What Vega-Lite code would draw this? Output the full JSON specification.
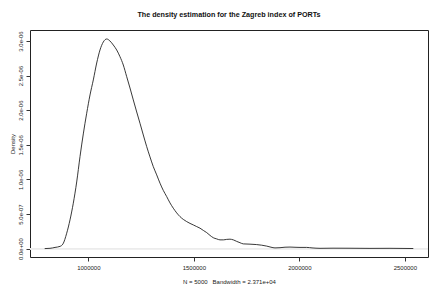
{
  "$schema": "https://vega.github.io/schema/vega-lite/v6.json",
  "autosize": {"type": "none"},
  "width": 398,
  "height": 227,
  "padding": {"left": 30, "top": 30, "right": 16, "bottom": 38},
  "background": "white",
  "config": {
    "font": "Liberation Sans",
    "view": {"stroke": "#222", "strokeWidth": 1},
    "axis": {"grid": false, "domain": false, "tickColor": "#333", "tickSize": 4, "labelColor": "#222", "titleColor": "#222", "labelFont": "Liberation Sans", "titleFont": "Liberation Sans", "labelFontSize": 6, "titleFontSize": 6, "titleFontWeight": "normal"}
  },
  "title": {"text": "The density estimation for the Zagreb index of PORTs", "fontSize": 7.2, "fontWeight": "bold", "color": "#111", "offset": 12, "anchor": "middle"},
  "data": {"values": [
    {"x": 793370, "d": 0.0},
    {"x": 818500, "d": 0.004e-6},
    {"x": 842200, "d": 0.017e-6},
    {"x": 865900, "d": 0.032e-6},
    {"x": 880100, "d": 0.068e-6},
    {"x": 897600, "d": 0.222e-6},
    {"x": 913300, "d": 0.415e-6},
    {"x": 928900, "d": 0.656e-6},
    {"x": 945000, "d": 0.963e-6},
    {"x": 960700, "d": 1.329e-6},
    {"x": 976300, "d": 1.657e-6},
    {"x": 992400, "d": 1.956e-6},
    {"x": 1008100, "d": 2.220e-6},
    {"x": 1023700, "d": 2.437e-6},
    {"x": 1039800, "d": 2.682e-6},
    {"x": 1055400, "d": 2.870e-6},
    {"x": 1071100, "d": 2.986e-6},
    {"x": 1087200, "d": 3.029e-6},
    {"x": 1102800, "d": 3.000e-6},
    {"x": 1118500, "d": 2.942e-6},
    {"x": 1134600, "d": 2.870e-6},
    {"x": 1150200, "d": 2.773e-6},
    {"x": 1165900, "d": 2.653e-6},
    {"x": 1182000, "d": 2.484e-6},
    {"x": 1197600, "d": 2.321e-6},
    {"x": 1213300, "d": 2.148e-6},
    {"x": 1229400, "d": 1.974e-6},
    {"x": 1245000, "d": 1.811e-6},
    {"x": 1260700, "d": 1.642e-6},
    {"x": 1276800, "d": 1.473e-6},
    {"x": 1292400, "d": 1.325e-6},
    {"x": 1308100, "d": 1.184e-6},
    {"x": 1324200, "d": 1.065e-6},
    {"x": 1339800, "d": 0.945e-6},
    {"x": 1355400, "d": 0.841e-6},
    {"x": 1371600, "d": 0.751e-6},
    {"x": 1387200, "d": 0.660e-6},
    {"x": 1402800, "d": 0.584e-6},
    {"x": 1418900, "d": 0.516e-6},
    {"x": 1434600, "d": 0.462e-6},
    {"x": 1450200, "d": 0.422e-6},
    {"x": 1466300, "d": 0.390e-6},
    {"x": 1482000, "d": 0.364e-6},
    {"x": 1497600, "d": 0.342e-6},
    {"x": 1513700, "d": 0.318e-6},
    {"x": 1529400, "d": 0.295e-6},
    {"x": 1545000, "d": 0.263e-6},
    {"x": 1561100, "d": 0.231e-6},
    {"x": 1576800, "d": 0.191e-6},
    {"x": 1592400, "d": 0.157e-6},
    {"x": 1608500, "d": 0.140e-6},
    {"x": 1624100, "d": 0.126e-6},
    {"x": 1639800, "d": 0.126e-6},
    {"x": 1655900, "d": 0.133e-6},
    {"x": 1671500, "d": 0.136e-6},
    {"x": 1687200, "d": 0.126e-6},
    {"x": 1703300, "d": 0.104e-6},
    {"x": 1718900, "d": 0.085e-6},
    {"x": 1734500, "d": 0.068e-6},
    {"x": 1766300, "d": 0.064e-6},
    {"x": 1798100, "d": 0.058e-6},
    {"x": 1821800, "d": 0.049e-6},
    {"x": 1845500, "d": 0.036e-6},
    {"x": 1865800, "d": 0.020e-6},
    {"x": 1884800, "d": 0.010e-6},
    {"x": 1908500, "d": 0.013e-6},
    {"x": 1932200, "d": 0.020e-6},
    {"x": 1955900, "d": 0.022e-6},
    {"x": 1979600, "d": 0.019e-6},
    {"x": 2003300, "d": 0.017e-6},
    {"x": 2035000, "d": 0.017e-6},
    {"x": 2060200, "d": 0.010e-6},
    {"x": 2098100, "d": 0.004e-6},
    {"x": 2159700, "d": 0.006e-6},
    {"x": 2240300, "d": 0.005e-6},
    {"x": 2335000, "d": 0.003e-6},
    {"x": 2429800, "d": 0.004e-6},
    {"x": 2540300, "d": 0.001e-6}
  ]},
  "layer": [
    {
      "mark": {"type": "rule", "color": "#ececec", "strokeWidth": 0.8},
      "encoding": {"y": {"datum": 0, "type": "quantitative"}}
    },
    {
      "mark": {"type": "line", "color": "#222", "strokeWidth": 0.9, "interpolate": "monotone"},
      "encoding": {
        "x": {"field": "x", "type": "quantitative",
              "scale": {"domain": [723700, 2609900], "nice": false, "zero": false},
              "axis": {"values": [1000000, 1500000, 2000000, 2500000], "tickCount": 10, "format": "d", "labelPadding": 3, "title": "N = 5000\u00a0\u00a0\u00a0Bandwidth = 2.371e+04", "titlePadding": 8, "labelFlush": false, "labelOverlap": false}},
        "y": {"field": "d", "type": "quantitative",
              "scale": {"domain": [-0.1215e-6, 3.159e-6], "nice": false, "zero": false},
              "axis": {"values": [0, 5e-7, 1e-6, 1.5e-6, 2e-6, 2.5e-6, 3e-6], "tickCount": 12,
                       "labelExpr": "datum.value < 1e-7 ? '0.0e+00' : (datum.value < 9e-7 ? '5.0e-07' : format(datum.value * 1e6, '.1f') + 'e-06')",
                       "labelAngle": -90, "labelAlign": "center", "labelBaseline": "bottom", "labelPadding": 2.5, "labelFlush": false, "labelOverlap": false,
                       "title": "Density", "titlePadding": 2.5}}
      }
    }
  ]
}
